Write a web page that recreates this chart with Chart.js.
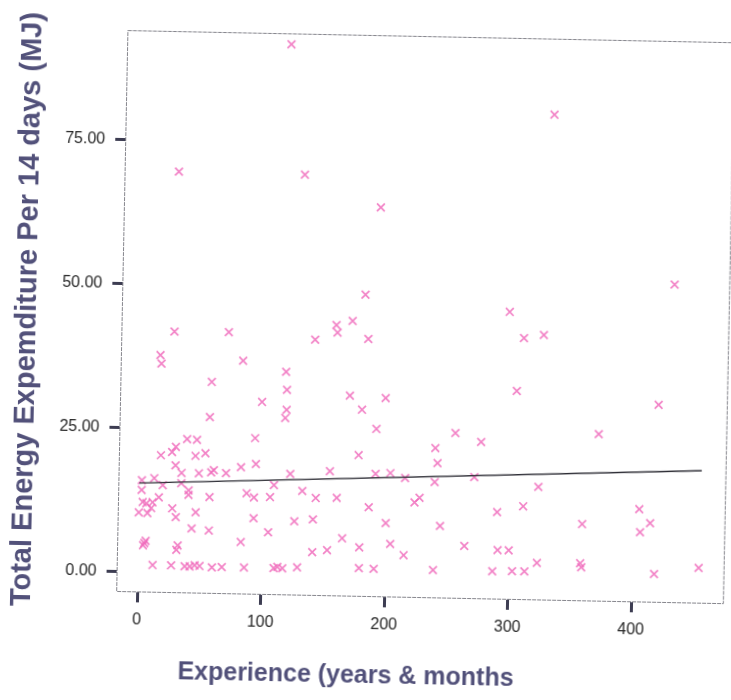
<!DOCTYPE html>
<html>
<head>
<meta charset="utf-8">
<script src="https://cdn.jsdelivr.net/npm/chart.js@4.4.1/dist/chart.umd.min.js"></script>
<style>
  html, body { margin: 0; padding: 0; background: #fff; }
  #wrap { width: 731px; height: 700px; overflow: hidden; position: relative; background: #fff; }
  /* the printed page sits slightly askew */
  #chart { display: block; background: #fff; transform: rotate(1.15deg); transform-origin: 118px 600px; }
</style>
</head>
<body>
<div id="wrap"><canvas id="chart" width="731" height="700"></canvas></div>
<script>
// Experience (months) of each respondent
const experience = [
  116, 27, 129, 330, 191, 430, 180, 26, 70, 140, 157, 158, 170, 183, 297, 309, 325,
  15, 16, 82, 57, 56, 117, 118, 98, 118, 117, 169, 198, 179, 191, 304, 419, 255, 276, 371, 239, 241,
  93, 38, 46, 29, 26, 17, 45, 53, 177, 29, 34, 48, 58, 60, 70, 82, 94, 122, 154, 191, 203, 215, 239, 271, 323,
  2, 12, 19, 34, 40, 40, 2, 3, 0, 6, 10, 11, 16, 7, 57, 87, 93, 109, 106, 132, 143, 160, 186, 223, 227, 311, 290, 405,
  27, 30, 46, 93, 43, 57, 126, 141, 200, 244, 359, 414, 406, 105, 165, 179, 204, 141, 153,
  5, 4, 6, 32, 31, 83, 215, 264, 291, 300, 323, 358, 359,
  12, 27, 38, 42, 46, 50, 60, 68, 86, 110, 113, 117, 129, 179, 191, 239, 287, 303, 313, 418, 454
];

// Total energy expenditure per 14 days (MJ)
const energy = [
  92.1, 69.6, 69.5, 80.8, 64.1, 51.7, 48.9, 41.8, 41.9, 40.9, 43.5, 42.2, 44.3, 41.2, 46.4, 41.9, 42.5,
  37.7, 36.2, 37.0, 33.2, 27.1, 35.2, 32.1, 29.9, 28.6, 27.2, 31.3, 31.0, 28.9, 25.6, 32.7, 30.8, 25.2, 23.7, 25.5, 22.5, 19.9,
  23.6, 23.2, 23.1, 21.8, 20.9, 20.3, 20.3, 20.8, 21.0, 18.6, 17.3, 17.3, 17.5, 17.9, 17.4, 18.5, 19.1, 17.5, 18.1, 17.8, 18.0, 17.2, 16.6, 17.6, 16.1,
  15.9, 16.3, 15.1, 15.5, 14.3, 13.5, 14.2, 12.1, 10.3, 11.9, 11.1, 12.1, 13.0, 10.2, 13.2, 14.0, 13.3, 15.5, 13.4, 14.6, 13.4, 13.5, 12.0, 13.0, 13.8, 12.7, 11.6, 12.6,
  11.1, 9.6, 10.5, 9.7, 7.7, 7.4, 9.3, 9.7, 9.3, 9.0, 9.8, 10.2, 8.6, 7.3, 6.5, 5.0, 5.7, 4.0, 4.4,
  5.0, 4.6, 5.4, 4.7, 3.9, 5.5, 3.8, 5.6, 5.0, 5.0, 2.9, 3.0, 2.3,
  1.2, 1.2, 1.1, 1.1, 1.3, 1.2, 1.0, 1.1, 1.1, 1.1, 1.3, 1.1, 1.3, 1.4, 1.3, 1.3, 1.3, 1.4, 1.4, 1.4, 2.6
];

// Fitted trend line end points
const fitExperience = [0, 455];
const fitEnergy = [15.4, 19.5];

// Axis ticks
const xTicks = [0, 100, 200, 300, 400];
const yTicks = [0, 25, 50, 75];

const xTitle = 'Experience (years & months';
const yTitle = 'Total Energy Expemditure Per 14 days (MJ)';

const FONT = "'Liberation Sans', Arial, Helvetica, sans-serif";
const TITLE_COLOR = '#52517a';
const TICK_COLOR = '#3d3d52';

const points = experience.map((x, i) => ({ x: x, y: energy[i] }));
const fitLine = fitExperience.map((x, i) => ({ x: x, y: fitEnergy[i] }));

// frame around the plotting area
const framePlugin = {
  id: 'frame',
  beforeDatasetsDraw(chart) {
    const { ctx, chartArea: a } = chart;
    ctx.save();
    ctx.strokeStyle = '#85858c';
    ctx.lineWidth = 1;
    ctx.setLineDash([4, 1]);
    ctx.strokeRect(a.left + 0.5, a.top + 0.5, a.right - a.left - 1, a.bottom - a.top - 1);
    ctx.restore();
  }
};

// horizontal axis caption, set left of the plot centre
const xTitlePlugin = {
  id: 'xTitle',
  afterDraw(chart) {
    const { ctx, chartArea: a } = chart;
    ctx.save();
    ctx.font = 'bold 25px ' + FONT;
    ctx.fillStyle = TITLE_COLOR;
    ctx.textAlign = 'center';
    ctx.textBaseline = 'middle';
    ctx.fillText(xTitle, a.left + 231, 671);
    ctx.restore();
  }
};

new Chart(document.getElementById('chart'), {
  type: 'scatter',
  data: {
    datasets: [
      {
        label: 'Energy',
        data: points,
        pointStyle: 'crossRot',
        pointRadius: 5.5,
        pointBorderWidth: 1.7,
        borderColor: 'rgba(240, 108, 188, 0.85)',
        backgroundColor: 'rgba(240, 108, 188, 0.85)',
        order: 2
      },
      {
        type: 'line',
        label: 'Fit',
        data: fitLine,
        borderColor: '#2e2e36',
        borderWidth: 1.4,
        pointRadius: 0,
        fill: false,
        order: 1
      }
    ]
  },
  options: {
    responsive: false,
    animation: false,
    events: [],
    layout: { padding: { left: 5, right: 4, top: 30, bottom: 0 } },
    plugins: { legend: { display: false }, tooltip: { enabled: false } },
    scales: {
      x: {
        type: 'linear',
        min: -17,
        max: 475,
        afterFit(scale) { scale.height = 108; },
        afterBuildTicks(scale) { scale.ticks = xTicks.map(v => ({ value: v })); },
        grid: {
          drawOnChartArea: false,
          drawTicks: true,
          tickLength: 10,
          tickWidth: 3,
          tickColor: TICK_COLOR
        },
        border: { display: false },
        ticks: {
          padding: 8,
          color: '#262626',
          font: { family: FONT, size: 16 },
          callback: v => String(v)
        }
      },
      y: {
        type: 'linear',
        min: -3.6,
        max: 94,
        afterFit(scale) { scale.width = 111; },
        afterBuildTicks(scale) { scale.ticks = yTicks.map(v => ({ value: v })); },
        grid: {
          drawOnChartArea: false,
          drawTicks: true,
          tickLength: 10,
          tickWidth: 3,
          tickColor: TICK_COLOR
        },
        border: { display: false },
        ticks: {
          padding: 10,
          color: '#262626',
          font: { family: FONT, size: 16 },
          callback: v => Number(v).toFixed(2)
        },
        title: {
          display: true,
          text: yTitle,
          color: TITLE_COLOR,
          padding: { top: 0, bottom: 0 },
          font: { family: FONT, size: 29, weight: 'bold' }
        }
      }
    }
  },
  plugins: [framePlugin, xTitlePlugin]
});
</script>
</body>
</html>
